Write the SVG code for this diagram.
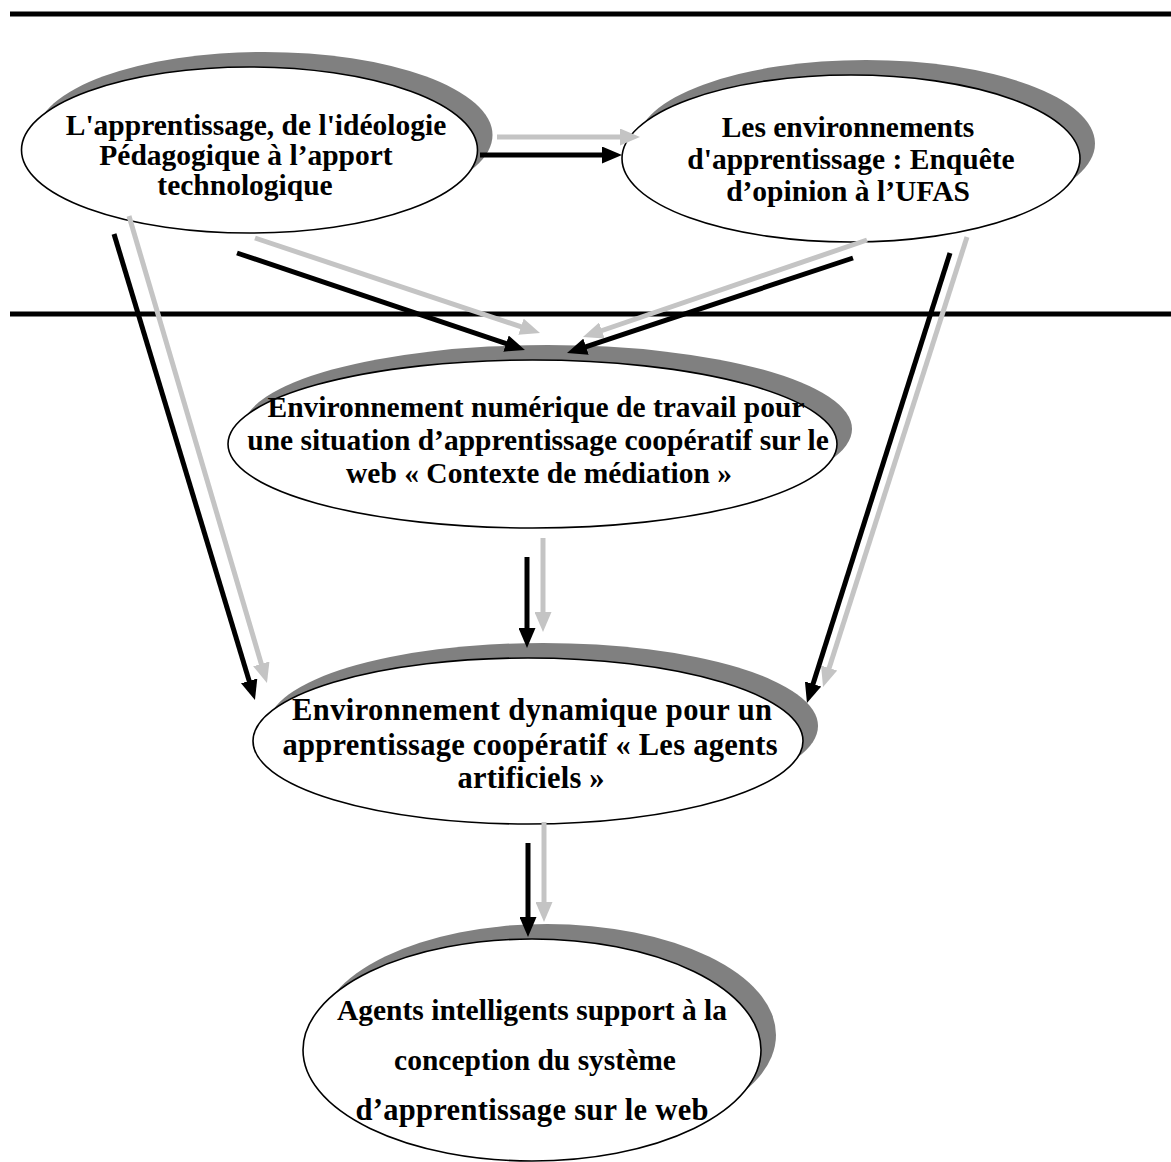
<svg xmlns="http://www.w3.org/2000/svg" width="1171" height="1162" viewBox="0 0 1171 1162">
  <defs>
    <marker id="head-black" markerUnits="userSpaceOnUse" markerWidth="20" markerHeight="17" refX="6" refY="8.5" orient="auto">
      <path d="M0,0 L20,8.5 L0,17 Z" fill="#000"/>
    </marker>
    <marker id="head-gray" markerUnits="userSpaceOnUse" markerWidth="20" markerHeight="17" refX="6" refY="8.5" orient="auto">
      <path d="M0,0 L20,8.5 L0,17 Z" fill="#c4c4c4"/>
    </marker>
  </defs>
  <style>
    .shadow { fill: #808080; stroke: none; }
    .bubble { fill: #ffffff; stroke: #000000; stroke-width: 1.6; }
    .label { font-family: "Liberation Serif", "Times New Roman", serif; font-weight: bold; font-size: 29.5px; fill: #000; text-anchor: middle; }
    .label-alt { font-size: 30.5px; }
    .rule { stroke: #000; stroke-width: 5; }
    .arrow-black { stroke: #000; stroke-width: 5; fill: none; marker-end: url(#head-black); }
    .arrow-gray { stroke: #c4c4c4; stroke-width: 5; fill: none; marker-end: url(#head-gray); }
  </style>

  <rect width="1171" height="1162" fill="#ffffff"/>

  <!-- horizontal rules -->
  <line class="rule" x1="10" y1="14" x2="1171" y2="14"/>
  <line class="rule" x1="10" y1="314" x2="1171" y2="314"/>

  <!-- nodes -->
  <g id="node-apprentissage">
    <ellipse class="shadow" cx="264.5" cy="135" rx="228" ry="83"/>
    <ellipse class="bubble" cx="249.5" cy="150" rx="228" ry="83"/>
    <text class="label" x="256" y="135">L'apprentissage, de l'idéologie</text>
    <text class="label" x="246" y="165">Pédagogique à l’apport</text>
    <text class="label" x="245" y="195">technologique</text>
  </g>

  <g id="node-environnements">
    <ellipse class="shadow" cx="866" cy="143.5" rx="229" ry="83.5"/>
    <ellipse class="bubble" cx="851" cy="158.5" rx="229" ry="83.5"/>
    <text class="label" x="848" y="137">Les environnements</text>
    <text class="label" x="851" y="169">d'apprentissage : Enquête</text>
    <text class="label" x="848" y="201">d’opinion à l’UFAS</text>
  </g>

  <g id="node-ent">
    <ellipse class="shadow" cx="547.5" cy="429" rx="304.5" ry="84"/>
    <ellipse class="bubble" cx="532.5" cy="444" rx="304.5" ry="84"/>
    <text class="label" x="536" y="417">Environnement numérique de travail pour</text>
    <text class="label" x="538" y="450">une situation d’apprentissage coopératif sur le</text>
    <text class="label" x="539" y="483">web « Contexte de médiation »</text>
  </g>

  <g id="node-dynamique">
    <ellipse class="shadow" cx="543" cy="726" rx="275" ry="83"/>
    <ellipse class="bubble" cx="528" cy="741" rx="275" ry="83"/>
    <text class="label label-alt" x="532" y="720" textLength="480">Environnement dynamique pour un</text>
    <text class="label label-alt" x="530" y="755" textLength="495">apprentissage coopératif « Les agents</text>
    <text class="label label-alt" x="531" y="788" textLength="147">artificiels »</text>
  </g>

  <g id="node-agents">
    <ellipse class="shadow" cx="547" cy="1035" rx="229" ry="111"/>
    <ellipse class="bubble" cx="532" cy="1050" rx="229" ry="111"/>
    <text class="label" x="532" y="1020">Agents intelligents support à la</text>
    <text class="label" x="535" y="1070">conception du système</text>
    <text class="label label-alt" x="532" y="1120" textLength="353">d’apprentissage sur le web</text>
  </g>

  <!-- connectors, drawn over the bubbles and their shadows -->
  <g id="connectors">
    <line class="arrow-gray" x1="497" y1="137" x2="626" y2="137"/>
    <line class="arrow-black" x1="480" y1="155" x2="608" y2="155"/>

    <line class="arrow-gray" x1="255" y1="238" x2="526.7" y2="328.6"/>
    <line class="arrow-black" x1="237" y1="253" x2="511.7" y2="345.5"/>

    <line class="arrow-gray" x1="867" y1="240" x2="596.2" y2="332.5"/>
    <line class="arrow-black" x1="853" y1="258" x2="580.3" y2="348.6"/>

    <line class="arrow-gray" x1="129" y1="216" x2="263" y2="669.6"/>
    <line class="arrow-black" x1="114" y1="234" x2="250.9" y2="686.6"/>

    <line class="arrow-gray" x1="967" y1="237" x2="827.3" y2="673.7"/>
    <line class="arrow-black" x1="950" y1="253" x2="811.2" y2="689.7"/>

    <line class="arrow-gray" x1="543" y1="538" x2="543" y2="618"/>
    <line class="arrow-black" x1="527" y1="557" x2="527" y2="634"/>

    <line class="arrow-gray" x1="544" y1="822" x2="544" y2="908"/>
    <line class="arrow-black" x1="528" y1="843" x2="528" y2="923"/>
  </g>
</svg>
